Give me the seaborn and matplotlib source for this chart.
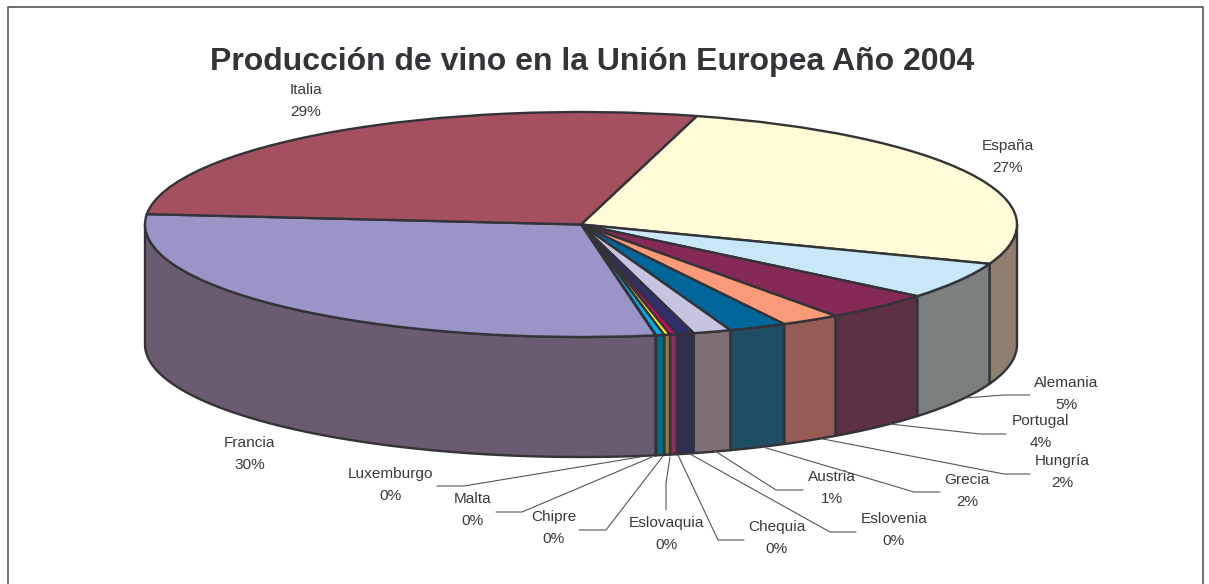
import numpy as np
import matplotlib
matplotlib.use("Agg")
import matplotlib.pyplot as plt
import seaborn as sns

# estimated shares, clockwise from the Italia / España edge
paises = ["España", "Alemania", "Portugal", "Hungría", "Grecia", "Austria", "Eslovenia",
          "Chequia", "Eslovaquia", "Chipre", "Malta", "Luxemburgo", "Francia", "Italia"]
valores = [26.4, 5.3, 4.1, 2.2, 2.15, 1.4, 0.64, 0.25, 0.22, 0.3, 0.01, 0.01, 29.2, 27.8]
etiquetas = ["27%", "5%", "4%", "2%", "2%", "1%", "0%", "0%", "0%", "0%", "0%", "0%", "30%", "29%"]

color_tapa = ["#FFFBD6", "#C8E8FA", "#852956", "#FB9A78", "#016699", "#C7C4E2", "#2F2F6E",
              "#E0007A", "#FFF200", "#00AEEF", "#00A0A0", "#3C3C6E", "#9B94C6", "#A5505F"]
color_lado = ["#8F7F6F", "#7A7F80", "#5C3045", "#945C55", "#1F4D63", "#7F6F77", "#2F2F4F",
              "#902A60", "#8D7B3A", "#006D7E", "#006D7E", "#2F2F4F", "#6A5C70", "#6A3640"]

# chart layout, in pixels of the 1209x584 picture
CX, CY, RX, RY, ALTO = 581, 224.5, 436, 112.5, 120
ARRANQUE = 15.4
LINEA = "#333338"
TEXTO = "#3A3A3E"

pos_texto = {
    "Italia": (306, 101), "España": (1008, 157), "Alemania": (1066, 394), "Portugal": (1041, 432),
    "Hungría": (1062, 472), "Grecia": (967, 491), "Austria": (832, 488), "Eslovenia": (894, 530),
    "Chequia": (777, 538), "Eslovaquia": (667, 534), "Chipre": (554, 528), "Malta": (473, 510),
    "Luxemburgo": (391, 485), "Francia": (250, 454),
}
guias = {
    "Luxemburgo": [(437, 486), (464, 486), (640, 457)],
    "Malta": [(496, 512), (522, 512), (652, 457)],
    "Chipre": [(579, 530), (606, 530), (663, 456)],
    "Eslovaquia": [(666, 510), (666, 483), (670, 457)],
    "Chequia": [(744, 540), (718, 540), (678, 455)],
    "Eslovenia": [(856, 532), (830, 532), (690, 454)],
    "Austria": [(803, 490), (776, 490), (715, 451)],
    "Grecia": [(940, 492), (914, 492), (763, 447)],
    "Hungría": [(1030, 474), (1004, 474), (823, 439)],
    "Portugal": [(1006, 434), (980, 434), (890, 424)],
    "Alemania": [(1030, 395), (1004, 395), (965, 398)],
}


def px(x, y):
    return (x - CX) / RX, (CY - y) / RY


sns.set_theme(style="white")
plt.rcParams["font.family"] = ["Liberation Sans", "DejaVu Sans"]

fig = plt.figure(figsize=(12.09, 5.84), dpi=100)
ax = fig.add_axes([0, 0, 1, 1])

# top of the cake: pie squashed by the non equal axes
ax.pie(valores, colors=color_tapa, startangle=90 - ARRANQUE, counterclock=False, normalize=True,
       wedgeprops=dict(edgecolor=LINEA, linewidth=1.7, zorder=5))
ax.set_aspect("auto")
ax.set_xlim((0 - CX) / RX, (1209 - CX) / RX)
ax.set_ylim((CY - 584) / RY, CY / RY)

# side wall, only the front half is visible
bordes = ARRANQUE + np.concatenate([[0], np.cumsum(valores)]) / np.sum(valores) * 360
alto = ALTO / RY
for i in range(len(valores)):
    a0, a1 = max(bordes[i], 90), min(bordes[i + 1], 270)
    if a1 <= a0:
        continue
    t = np.radians(np.linspace(a0, a1, 60))
    xs, ys = np.sin(t), np.cos(t)
    ax.fill(np.r_[xs, xs[::-1]], np.r_[ys, ys[::-1] - alto], facecolor=color_lado[i],
            edgecolor=LINEA, linewidth=1.7, joinstyle="round", zorder=2)

# leader lines
for nombre, puntos in guias.items():
    gx, gy = zip(*[px(*p) for p in puntos])
    ax.plot(gx, gy, color="#555558", lw=0.8, zorder=3)

for nombre, etiqueta in zip(paises, etiquetas):
    x, y = px(*pos_texto[nombre])
    ax.text(x, y, f"{nombre}\n{etiqueta}", ha="center", va="center", fontsize=11.1,
            color=TEXTO, linespacing=1.7, zorder=6)

tx, ty = px(592, 62)
ax.text(tx, ty, "Producción de vino en la Unión Europea Año 2004", ha="center", va="center",
        fontsize=23, fontweight="bold", color=LINEA, zorder=6)

# chart border, runs off the bottom of the picture
bx, by = zip(*[px(*p) for p in [(7.5, 590), (7.5, 7.5), (1203, 7.5), (1203, 590)]])
ax.plot(bx, by, color="#555555", lw=1.2, zorder=7, clip_on=True)

fig.savefig("out.png", dpi=100, facecolor="white")
